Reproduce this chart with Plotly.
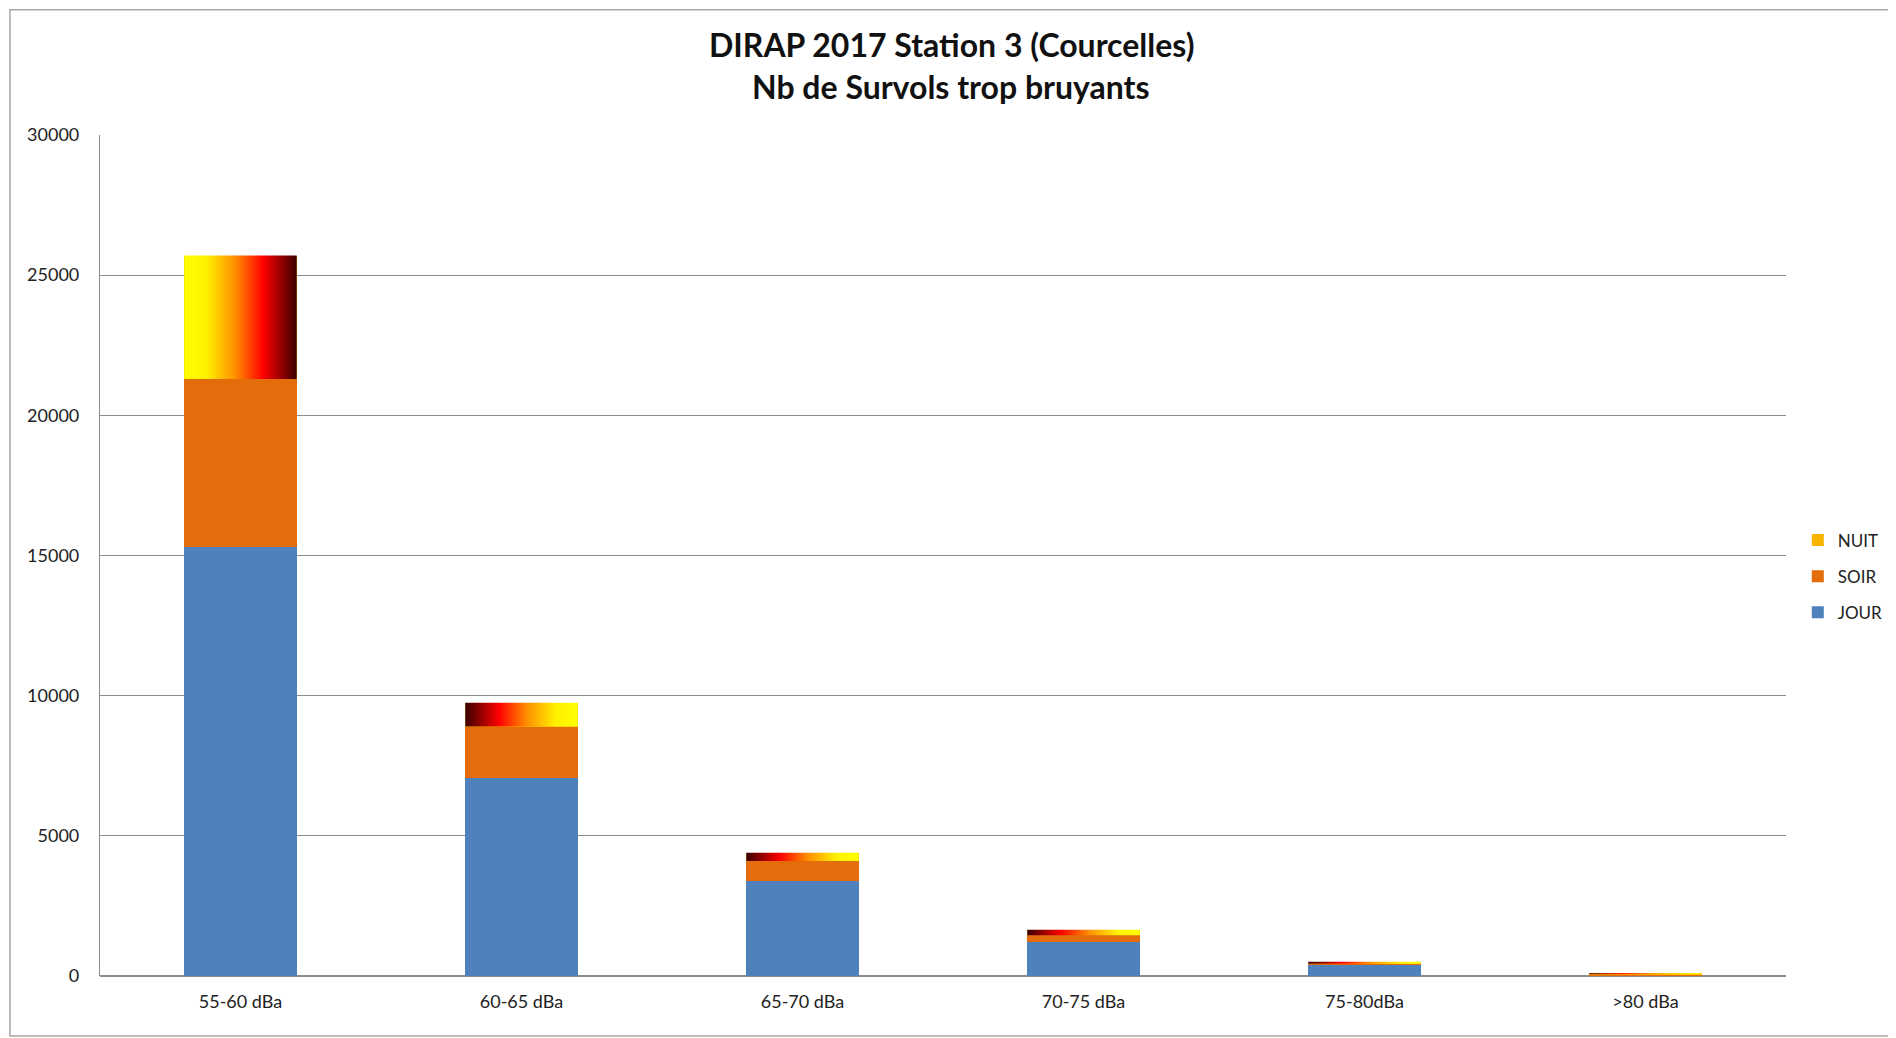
import plotly.graph_objects as go

categories = ["55-60 dBa", "60-65 dBa", "65-70 dBa", "70-75 dBa", "75-80dBa", ">80 dBa"]
jour = [15300, 7050, 3400, 1200, 400, 20]
soir = [6000, 1850, 700, 250, 40, 40]
nuit = [4400, 850, 300, 200, 70, 40]
nuit_reversed = [False, True, True, True, True, True]
y_ticks = [0, 5000, 10000, 15000, 20000, 25000, 30000]

BAR_W = 0.4
FONT = "Lato, Open Sans, sans-serif"
FIRE = [[0, "#FFFF00"], [0.2, "#FFF000"], [0.45, "#FF9000"], [0.7, "#FF0000"], [1, "#3A0000"]]
FIRE_REV = [[1 - s, c] for s, c in reversed(FIRE)]

xs = list(range(len(categories)))
fig = go.Figure()
fig.add_trace(go.Bar(x=xs, y=jour, name="JOUR", marker=dict(color="#4F81BD", line=dict(width=0)),
                     width=BAR_W, legendrank=3, legendgroup="j"))
fig.add_trace(go.Bar(x=xs, y=soir, name="SOIR", marker=dict(color="#E46C0A", line=dict(width=0)),
                     width=BAR_W, legendrank=2, legendgroup="s"))
fig.add_trace(go.Bar(x=xs, y=nuit, name="NUIT", marker=dict(color="#F7B500", line=dict(width=0)),
                     width=BAR_W, legendrank=1, legendgroup="n"))

for i in xs:
    base = jour[i] + soir[i]
    top = base + nuit[i]
    x0, x1 = i - BAR_W / 2, i + BAR_W / 2
    fig.add_trace(go.Scatter(
        x=[x0, x1, x1, x0, x0], y=[base, base, top, top, base],
        mode="lines", fill="toself", line=dict(width=0, color="rgba(0,0,0,0)"),
        fillgradient=dict(type="horizontal", colorscale=FIRE_REV if nuit_reversed[i] else FIRE),
        showlegend=False, hoverinfo="skip"))

fig.update_layout(
    width=1896, height=1038,
    barmode="stack",
    paper_bgcolor="white", plot_bgcolor="white",
    margin=dict(l=92, r=118, t=127, b=70),
    font=dict(family=FONT, color="#222222"),
    showlegend=True,
    legend=dict(x=1.007, y=0.475, xanchor="left", yanchor="middle",
                font=dict(size=17, family=FONT, color="#222222"),
                traceorder="grouped", tracegroupgap=11, itemwidth=30),
    xaxis=dict(range=[-0.5, len(categories) - 0.5], tickmode="array", tickvals=xs, ticktext=categories,
               showgrid=False, zeroline=False, showline=False, ticks="",
               tickfont=dict(size=18, family=FONT, color="#222222"), ticklabelstandoff=13),
    yaxis=dict(range=[0, 30000], tickmode="array", tickvals=y_ticks, ticktext=[str(v) for v in y_ticks],
               showgrid=True, gridcolor="#8C8C8C", gridwidth=1.2,
               zeroline=True, zerolinecolor="#8C8C8C", zerolinewidth=1.5,
               showline=True, linecolor="#8C8C8C", linewidth=1.2, ticks="",
               tickfont=dict(size=18, family=FONT, color="#222222"), ticklabelstandoff=16),
    annotations=[
        dict(text="<b>DIRAP 2017 Station 3 (Courcelles)</b>", xref="paper", yref="paper",
             x=0.505, y=1.108, xanchor="center", yanchor="middle", showarrow=False,
             font=dict(size=32, family=FONT, color="#111111")),
        dict(text="<b>Nb de Survols trop bruyants</b>", xref="paper", yref="paper",
             x=0.505, y=1.058, xanchor="center", yanchor="middle", showarrow=False,
             font=dict(size=32, family=FONT, color="#111111")),
    ],
    shapes=[dict(type="rect", xref="paper", yref="paper", x0=-0.0534, x1=1.09, y0=-0.0713, y1=1.149,
                 line=dict(color="#A8A8A8", width=1.5), fillcolor="rgba(0,0,0,0)", layer="below")],
)

fig.write_html("out.html")
